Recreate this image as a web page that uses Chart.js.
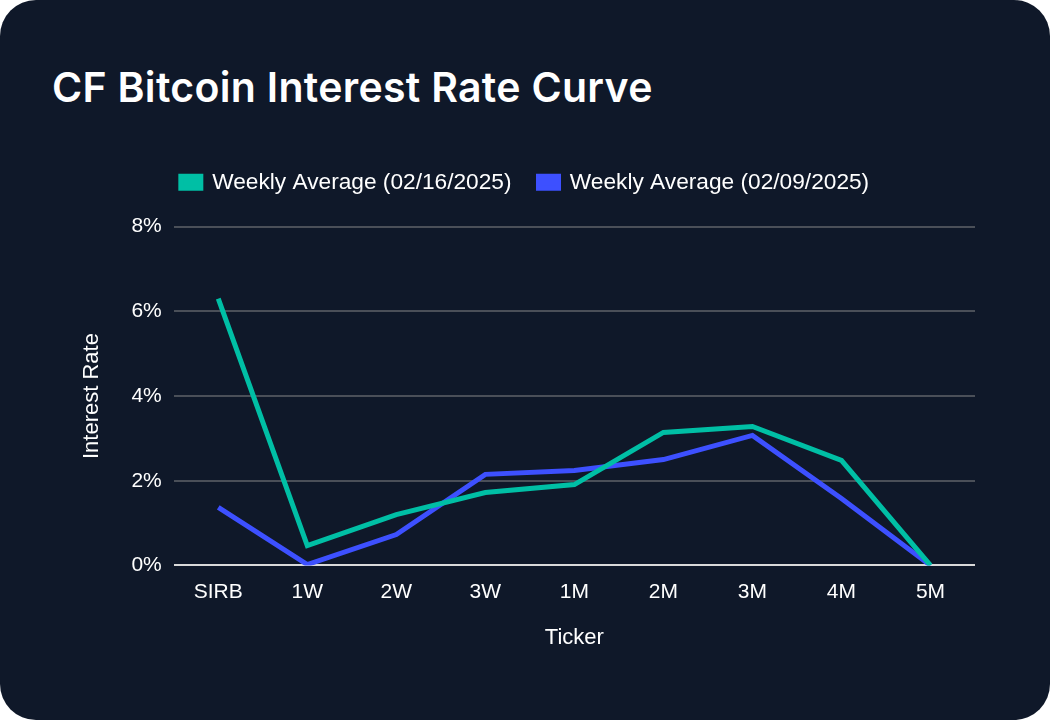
<!DOCTYPE html>
<html>
<head>
<meta charset="utf-8">
<script src="https://cdn.jsdelivr.net/npm/chart.js@4.4.1/dist/chart.umd.min.js"></script>
<style>
  html, body { margin: 0; padding: 0; background: #ffffff; }
  #card {
    position: relative;
    width: 1050px;
    height: 720px;
    background: #0f1829;
    border-radius: 36px;
    overflow: hidden;
  }
  #title {
    position: absolute;
    left: 52px;
    top: 63px;
    margin: 0;
    color: #ffffff;
    font-family: Inter, "Liberation Sans", sans-serif;
    font-weight: 600;
    font-size: 41px;
    letter-spacing: 0.3px;
    line-height: 1.2;
  }
  #chartBox { position: absolute; left: 0; top: 0; width: 1050px; height: 720px; }
</style>
</head>
<body>
<div id="card">
  <h1 id="title">CF Bitcoin Interest Rate Curve</h1>
  <div id="chartBox"><canvas id="curve"></canvas></div>
</div>
<script>
const tickers = ['SIRB', '1W', '2W', '3W', '1M', '2M', '3M', '4M', '5M'];
const week0216 = [6.30, 0.47, 1.20, 1.72, 1.91, 3.14, 3.28, 2.48, 0.00];
const week0209 = [1.37, 0.02, 0.73, 2.15, 2.24, 2.50, 3.07, 1.58, 0.00];
const yTicks = [0, 2, 4, 6, 8];

const fontFamily = '"Liberation Sans", Arial, sans-serif';
const tickFont = { family: fontFamily, size: 21 };
const labelFont = { family: fontFamily, size: 22 };
const legendFont = { family: fontFamily, size: 22.7 };
const textColor = '#ffffff';

// extra room between the legend and the plot
const legendGap = {
    id: 'legendGap',
    beforeInit(chart) {
        const fit = chart.legend.fit;
        chart.legend.fit = function () {
            fit.bind(chart.legend)();
            this.height += 23;
        };
    }
};

new Chart(document.getElementById('curve'), {
    type: 'line',
    data: {
        labels: tickers,
        datasets: [
            {
                label: 'Weekly Average (02/16/2025)',
                data: week0216,
                borderColor: '#00bfa5',
                backgroundColor: '#00bfa5',
                borderWidth: 5,
                pointRadius: 0,
                tension: 0
            },
            {
                label: 'Weekly Average (02/09/2025)',
                data: week0209,
                borderColor: '#3d50ff',
                backgroundColor: '#3d50ff',
                borderWidth: 5,
                pointRadius: 0,
                tension: 0
            }
        ]
    },
    options: {
        responsive: true,
        maintainAspectRatio: false,
        animation: false,
        layout: {
            padding: { top: 144, right: 75, bottom: 65, left: 75 }
        },
        plugins: {
            legend: {
                position: 'top',
                labels: {
                    color: textColor,
                    font: legendFont,
                    boxWidth: 20,
                    boxHeight: 12,
                    padding: 27
                }
            },
            tooltip: { enabled: false }
        },
        scales: {
            x: {
                offset: true,
                grid: { display: false, drawTicks: false },
                border: { display: false },
                ticks: { color: textColor, font: tickFont, padding: 14 },
                title: {
                    display: true,
                    text: 'Ticker',
                    color: textColor,
                    font: labelFont,
                    padding: { top: 6 }
                }
            },
            y: {
                min: 0,
                max: 8,
                afterBuildTicks: (axis) => {
                    axis.ticks = yTicks.map(v => ({ value: v }));
                },
                grid: {
                    drawTicks: false,
                    lineWidth: 2,
                    color: (ctx) => ctx.tick && ctx.tick.value === 0 ? '#d9d9d9' : '#4a4f58'
                },
                border: { display: false },
                ticks: {
                    color: textColor,
                    font: tickFont,
                    padding: 12,
                    callback: (v) => v + '%'
                },
                title: {
                    display: true,
                    text: 'Interest Rate',
                    color: textColor,
                    font: labelFont,
                    padding: { bottom: 14 }
                }
            }
        }
    },
    plugins: [legendGap]
});
</script>
</body>
</html>
